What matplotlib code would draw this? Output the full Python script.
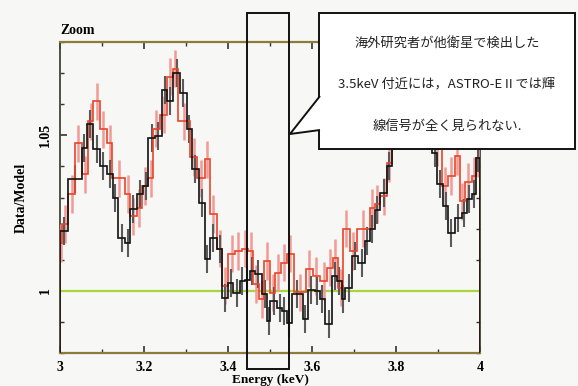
import matplotlib
matplotlib.use("Agg")
import matplotlib.pyplot as plt
from matplotlib.patches import Rectangle, Polygon
from matplotlib.ticker import MultipleLocator
import numpy as np

# bin edges (keV) and Data/Model ratio, black series
black_edges = [3.000, 3.019, 3.052, 3.064, 3.079, 3.095, 3.112, 3.126, 3.138, 3.155,
               3.167, 3.183, 3.198, 3.210, 3.226, 3.243, 3.255, 3.269, 3.286, 3.302,
               3.314, 3.331, 3.345, 3.357, 3.374, 3.386, 3.400, 3.412, 3.429, 3.440,
               3.452, 3.464, 3.481, 3.493, 3.500, 3.517, 3.529, 3.540, 3.552, 3.579,
               3.590, 3.607, 3.619, 3.631, 3.648, 3.660, 3.671, 3.679, 3.695, 3.710,
               3.726, 3.738, 3.750, 3.762, 3.779, 3.790, 3.805, 3.821, 3.838, 3.852,
               3.869, 3.886, 3.898, 3.912, 3.924, 3.940, 3.957, 3.969, 3.981, 3.990,
               4.000]
black_ratio = [1.0192, 1.0359, 1.0458, 1.0538, 1.0455, 1.0401, 1.0375, 1.0298, 1.0170,
               1.0154, 1.0263, 1.0311, 1.0337, 1.0490, 1.0497, 1.0647, 1.0609, 1.0699,
               1.0635, 1.0519, 1.0391, 1.0282, 1.0103, 1.0170, 1.0135, 0.9978, 1.0026,
               0.9994, 1.0032, 1.0035, 1.0064, 1.0054, 0.9990, 0.9904, 0.9968, 0.9946,
               0.9936, 0.9897, 0.9990, 0.9910, 1.0003, 1.0000, 0.9974, 0.9894, 1.0048,
               1.0032, 0.9974, 1.0010, 1.0112, 1.0090, 1.0160, 1.0200, 1.0260, 1.0315,
               1.0400, 1.0500, 1.0560, 1.0600, 1.0620, 1.0590, 1.0540, 1.0442, 1.0343,
               1.0272, 1.0185, 1.0234, 1.0250, 1.0295, 1.0311, 1.0426]
black_err = 0.0045

# red series
red_edges = [3.000, 3.005, 3.019, 3.036, 3.052, 3.067, 3.079, 3.095, 3.112, 3.124,
             3.155, 3.167, 3.183, 3.195, 3.210, 3.221, 3.238, 3.255, 3.269, 3.281,
             3.310, 3.326, 3.345, 3.357, 3.374, 3.386, 3.400, 3.417, 3.433, 3.448,
             3.460, 3.474, 3.486, 3.500, 3.512, 3.526, 3.540, 3.557, 3.586, 3.602,
             3.619, 3.636, 3.650, 3.662, 3.674, 3.690, 3.707, 3.738, 3.750, 3.762,
             3.779, 3.790, 3.805, 3.821, 3.838, 3.852, 3.869, 3.886, 3.910, 3.924,
             3.940, 3.952, 3.964, 3.981, 3.990, 4.000]
red_ratio = [1.0154, 1.0215, 1.0311, 1.0474, 1.0375, 1.0545, 1.0609, 1.0519, 1.0474,
             1.0362, 1.0311, 1.0240, 1.0266, 1.0337, 1.0362, 1.0522, 1.0567, 1.0689,
             1.0715, 1.0545, 1.0430, 1.0362, 1.0423, 1.0247, 1.0135, 1.0016, 1.0119,
             1.0128, 1.0135, 1.0128, 1.0022, 0.9974, 1.0096, 0.9994, 1.0058, 1.0090,
             1.0119, 0.9995, 1.0071, 1.0048, 1.0032, 1.0074, 1.0106, 1.0010, 1.0200,
             1.0128, 1.0200, 1.0266, 1.0279, 1.0304, 1.0410, 1.0520, 1.0600, 1.0650,
             1.0660, 1.0630, 1.0570, 1.0460, 1.0337, 1.0369, 1.0433, 1.0288, 1.0350,
             1.0369, 1.0426]
red_err = 0.006

xticks = [3, 3.2, 3.4, 3.6, 3.8, 4]
xtick_labels = ["3", "3.2", "3.4", "3.6", "3.8", "4"]
yticks = [1, 1.05]
ytick_labels = ["1", "1.05"]

note_lines = ["海外研究者が他衛星で検出した",
              "3.5keV 付近には，ASTRO-EⅡでは輝",
              "線信号が全く見られない."]

serif = ["Liberation Serif", "DejaVu Serif"]
jp = ["Noto Sans CJK JP", "DejaVu Sans"]
bg = "#f7f7f5"

fig = plt.figure(figsize=(5.78, 3.86), dpi=100, facecolor=bg)
ax = fig.add_axes([0.1038, 0.0855, 0.7266, 0.8055])
ax.set_facecolor(bg)

be = np.array(black_edges)
re_ = np.array(red_edges)
bc = (be[:-1] + be[1:]) / 2
rc = (re_[:-1] + re_[1:]) / 2

# model line
ax.axhline(1.0, color="#a9d63a", lw=1.6, zorder=2)

# error bars
ax.vlines(rc, np.array(red_ratio) - red_err, np.array(red_ratio) + red_err,
          color="#f19a96", lw=1.8, zorder=3)
ax.vlines(bc, np.array(black_ratio) - black_err, np.array(black_ratio) + black_err,
          color="#5a5a5a", lw=1.5, zorder=4)

# histograms
ax.stairs(red_ratio, red_edges, color="#e8452a", lw=1.2, zorder=5)
ax.stairs(black_ratio, black_edges, color="#111111", lw=1.2, zorder=6)

ax.set_xlim(3, 4)
ax.set_ylim(0.98, 1.08)
ax.set_xticks(xticks)
ax.set_xticklabels(xtick_labels, fontfamily=serif, fontsize=10, fontweight="bold")
ax.set_yticks(yticks)
ax.set_yticklabels(ytick_labels, fontfamily=serif, fontsize=10, fontweight="bold",
                   rotation=90, va="center")
ax.xaxis.set_minor_locator(MultipleLocator(0.1))
ax.yaxis.set_minor_locator(MultipleLocator(0.01))
ax.tick_params(which="both", direction="in", top=True, right=True, color="#333333")
ax.tick_params(which="major", length=5, width=1.2, pad=6)
ax.tick_params(which="minor", length=3, width=1.0)

for side in ["top", "bottom"]:
    ax.spines[side].set_color("#8a7d3a")
    ax.spines[side].set_linewidth(1.6)
for side in ["left", "right"]:
    ax.spines[side].set_color("#444433")
    ax.spines[side].set_linewidth(1.3)

ax.set_xlabel("Energy (keV)", fontfamily=serif, fontsize=9.5, fontweight="bold",
              labelpad=0)
ax.set_ylabel("Data/Model", fontfamily=serif, fontsize=10, fontweight="bold",
              labelpad=8)
fig.text(60 / 578, 1 - 31 / 386, "Zoom", fontfamily=serif, fontsize=10,
         fontweight="bold", ha="left", va="center")

# highlight rectangle around 3.5 keV (figure pixel coords)
W, H = 578, 386
def fx(px):
    return px / W
def fy(py):
    return 1 - py / H

fig.patches.append(Rectangle((fx(247), fy(369)), (289 - 247) / W, (369 - 13) / H,
                             transform=fig.transFigure, fill=False,
                             edgecolor="#111111", lw=1.4, zorder=10))

# callout box with pointer
fig.patches.append(Rectangle((fx(319), fy(149)), (575 - 319) / W, (149 - 13) / H,
                             transform=fig.transFigure, facecolor="white",
                             edgecolor="#111111", lw=1.4, zorder=11))
fig.patches.append(Polygon([(fx(320), fy(96)), (fx(290), fy(134)), (fx(320), fy(130))],
                           closed=False, transform=fig.transFigure, facecolor="white",
                           edgecolor="#111111", lw=1.4, zorder=12))

for i, line in enumerate(note_lines):
    fig.text(fx(447), fy([43, 84, 126][i]), line, fontfamily=jp, fontsize=9.5,
             ha="center", va="center", color="#222222", zorder=13)

fig.savefig("out.png", dpi=100, facecolor=bg)
